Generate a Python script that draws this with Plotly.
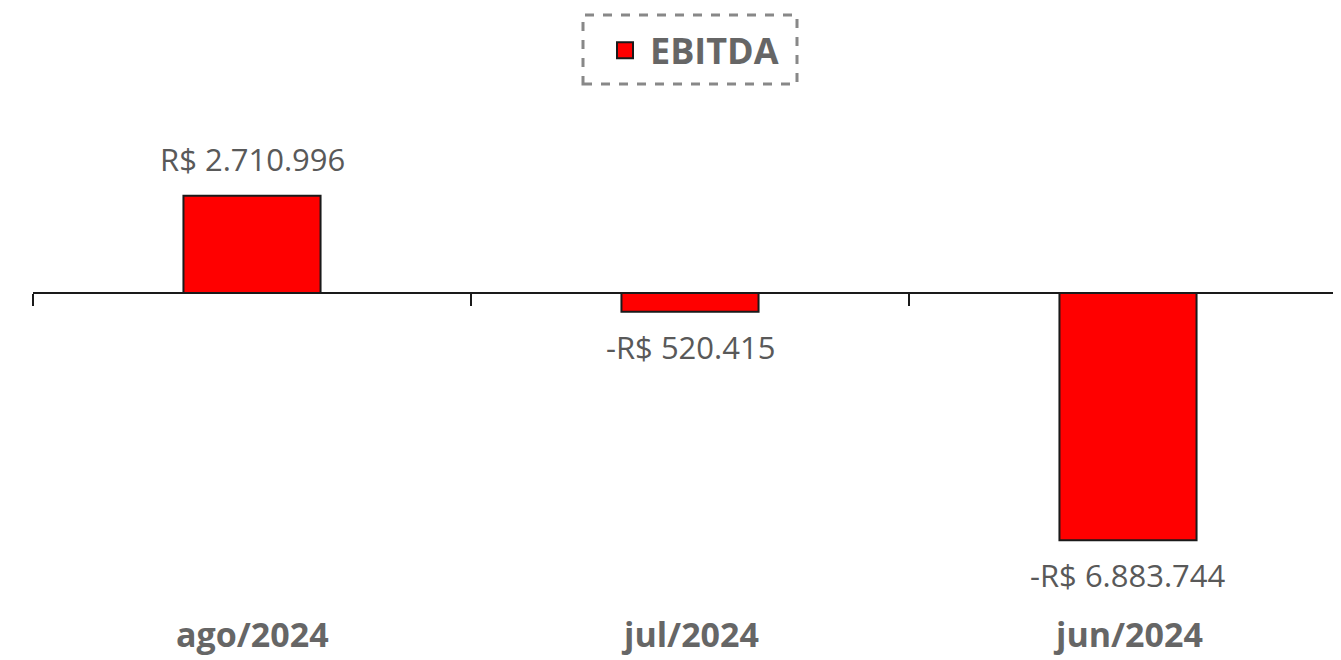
import plotly.graph_objects as go

categories = ["ago/2024", "jul/2024", "jun/2024"]
ebitda = [2710996, -520415, -6883744]
series_name = "EBITDA"


def brl(v):
    s = f"{abs(v):,.0f}".replace(",", ".")
    return ("-" if v < 0 else "") + "R$ " + s


FONT = "Open Sans"
OFF = 8  # page body margin
W, H = 1341 - OFF, 660 - OFF

fig = go.Figure()
fig.add_trace(go.Bar(
    x=categories, y=ebitda, name=series_name,
    marker=dict(color="#FF0000", line=dict(color="#1a1a1a", width=2)),
    width=0.313, showlegend=False, hoverinfo="skip",
))
fig.add_trace(go.Scatter(
    x=[None], y=[None], mode="markers", name=series_name,
    marker=dict(symbol="square", size=20, color="#FF0000",
                line=dict(color="#1a1a1a", width=2)),
))

for c, v in zip(categories, ebitda):
    fig.add_annotation(
        x=c, y=v, text=brl(v), showarrow=False,
        yanchor="bottom" if v >= 0 else "top",
        yshift=14 if v >= 0 else -12,
        font=dict(family=FONT, size=31, color="#595959"),
    )
    fig.add_annotation(
        x=c, y=0, yref="paper", text=f"<b>{c}</b>", showarrow=False,
        yanchor="middle", yshift=-34,
        font=dict(family=FONT, size=34, color="#666666"),
    )

left_px = 33 - OFF
top_px, bot_px, zero_px = 110 - OFF, 600 - OFF, 293 - OFF
units_per_px = 27855
ymax = (zero_px - top_px) * units_per_px
ymin = -(bot_px - zero_px) * units_per_px
zero_frac = (bot_px - zero_px) / (bot_px - top_px)
plot_w = W - left_px

fig.update_layout(
    width=W, height=H, autosize=False,
    margin=dict(l=left_px, r=0, t=top_px, b=H - bot_px, autoexpand=False),
    plot_bgcolor="white", paper_bgcolor="white",
    font=dict(family=FONT),
    showlegend=True,
    legend=dict(
        orientation="h", x=0.5 + 5 / plot_w, xanchor="center", y=0.981, yref="container",
        yanchor="top", font=dict(family=FONT, size=36, color="#666666", weight="bold"),
        bgcolor="rgba(0,0,0,0)", borderwidth=0, itemwidth=40,
    ),
    xaxis=dict(
        type="category", categoryorder="array", categoryarray=categories,
        range=[-0.5, 2.5 - 6 / 438],
        showticklabels=False, showgrid=False, zeroline=False,
        showline=True, linecolor="#1a1a1a", linewidth=2,
        ticks="outside", tickson="boundaries", ticklen=12, tickwidth=2,
        tickcolor="#1a1a1a",
        anchor="free", position=zero_frac,
    ),
    yaxis=dict(range=[ymin, ymax], visible=False, showgrid=False, zeroline=False),
    shapes=[dict(
        type="rect", xref="paper", yref="paper",
        x0=(583 - 33) / plot_w, x1=(797 - 33) / plot_w,
        y0=(bot_px - (84 - OFF)) / (bot_px - top_px),
        y1=(bot_px - (15 - OFF)) / (bot_px - top_px),
        line=dict(color="#888888", width=3, dash="dash"),
        fillcolor="rgba(0,0,0,0)",
    )],
)

fig.write_html("out.html")
